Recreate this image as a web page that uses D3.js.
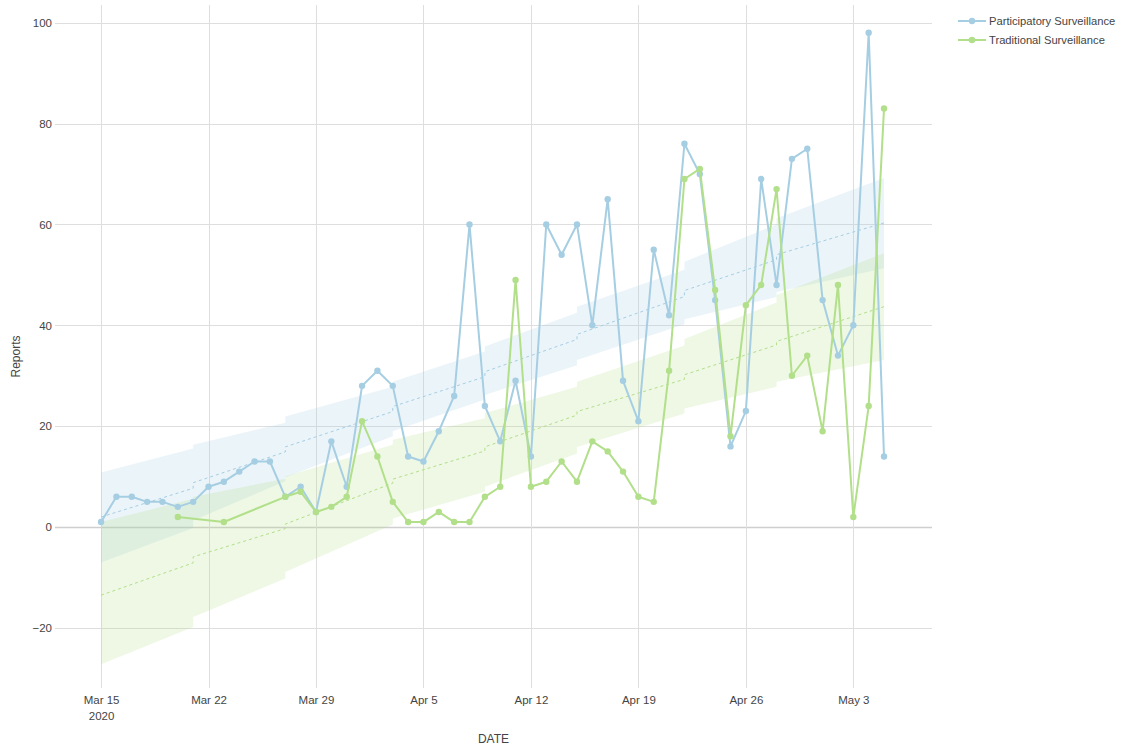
<!DOCTYPE html>
<html>
<head>
<meta charset="utf-8">
<script src="https://cdn.jsdelivr.net/npm/d3@7"></script>
<style>
  html, body { margin: 0; padding: 0; background: #fff; }
  svg text { font-family: "Liberation Sans", Arial, Helvetica, sans-serif; fill: #444; }
</style>
</head>
<body>
<svg id="chart" width="1122" height="749"></svg>
<script>
// ---------------- data ----------------
const partDates = [
  "2020-03-15","2020-03-16","2020-03-17","2020-03-18","2020-03-19","2020-03-20","2020-03-21",
  "2020-03-22","2020-03-23","2020-03-24","2020-03-25","2020-03-26","2020-03-27","2020-03-28",
  "2020-03-29","2020-03-30","2020-03-31","2020-04-01","2020-04-02","2020-04-03","2020-04-04",
  "2020-04-05","2020-04-06","2020-04-07","2020-04-08","2020-04-09","2020-04-10","2020-04-11",
  "2020-04-12","2020-04-13","2020-04-14","2020-04-15","2020-04-16","2020-04-17","2020-04-18",
  "2020-04-19","2020-04-20","2020-04-21","2020-04-22","2020-04-23","2020-04-24","2020-04-25",
  "2020-04-26","2020-04-27","2020-04-28","2020-04-29","2020-04-30","2020-05-01","2020-05-02",
  "2020-05-03","2020-05-04","2020-05-05"
];
const partValues = [
  1, 6, 6, 5, 5, 4, 5,
  8, 9, 11, 13, 13, 6, 8,
  3, 17, 8, 28, 31, 28, 14,
  13, 19, 26, 60, 24, 17, 29,
  14, 60, 54, 60, 40, 65, 29,
  21, 55, 42, 76, 70, 45, 16,
  23, 69, 48, 73, 75, 45, 34,
  40, 98, 14
];

const tradDates = [
  "2020-03-20","2020-03-23","2020-03-27","2020-03-28",
  "2020-03-29","2020-03-30","2020-03-31","2020-04-01","2020-04-02","2020-04-03","2020-04-04",
  "2020-04-05","2020-04-06","2020-04-07","2020-04-08","2020-04-09","2020-04-10","2020-04-11",
  "2020-04-12","2020-04-13","2020-04-14","2020-04-15","2020-04-16","2020-04-17","2020-04-18",
  "2020-04-19","2020-04-20","2020-04-21","2020-04-22","2020-04-23","2020-04-24","2020-04-25",
  "2020-04-26","2020-04-27","2020-04-28","2020-04-29","2020-04-30","2020-05-01","2020-05-02",
  "2020-05-03","2020-05-04","2020-05-05"
];
const tradValues = [
  2, 1, 6, 7,
  3, 4, 6, 21, 14, 5, 1,
  1, 3, 1, 1, 6, 8, 49,
  8, 9, 13, 9, 17, 15, 11,
  6, 5, 31, 69, 71, 47, 18,
  44, 48, 67, 30, 34, 19, 48,
  2, 24, 83
];

// trend knots (steps occur where a date repeats)
const trendDates = [
  "2020-03-15","2020-03-21","2020-03-21","2020-03-27","2020-03-27","2020-04-03","2020-04-03",
  "2020-04-09","2020-04-09","2020-04-15","2020-04-15","2020-04-22","2020-04-22","2020-04-28",
  "2020-04-28","2020-05-05"
];
const partTrend = [2.0, 7.7, 8.8, 14.9, 15.9, 22.9, 23.9, 29.8, 30.8, 37.2, 38.2, 45.7, 46.9, 53.0, 54.0, 60.3];
const partUpper = [10.8, 15.6, 16.3, 20.7, 21.9, 27.8, 28.8, 34.8, 35.8, 42.5, 43.7, 51.0, 52.6, 60.0, 61.2, 69.2];
const partLower = [-7.0, -0.2, 1.3, 9.1, 9.9, 18.0, 19.0, 25.3, 26.2, 32.1, 33.1, 40.2, 41.2, 45.6, 46.6, 51.3];

const tradTrend = [-13.5, -7.1, -5.9, -0.3, 0.6, 8.7, 9.5, 15.1, 15.9, 22.2, 22.9, 29.3, 30.2, 36.1, 36.8, 43.7];
const tradUpper = [1.0, 5.6, 6.0, 9.6, 10.1, 16.3, 17.3, 21.6, 22.6, 27.8, 28.8, 36.0, 37.3, 44.5, 46.0, 54.3];
const tradLower = [-27.2, -19.8, -17.8, -10.2, -8.9, 0.5, 1.7, 7.0, 8.0, 14.6, 15.9, 22.5, 23.5, 27.8, 28.8, 33.1];

const xTickDates = ["2020-03-15","2020-03-22","2020-03-29","2020-04-05","2020-04-12","2020-04-19","2020-04-26","2020-05-03"];
const yTicks = [-20, 0, 20, 40, 60, 80, 100];
const seriesNames = ["Participatory Surveillance", "Traditional Surveillance"];
const seriesColors = ["#a6cee3", "#b2df8a"];

// ---------------- layout ----------------
const parse = d3.utcParse("%Y-%m-%d");
const svg = d3.select("#chart");
const L = 55, R = 932, T = 5, B = 688;

const x = d3.scaleUtc()
  .domain([parse("2020-03-12"), new Date(Date.UTC(2020, 4, 8, 3))])
  .range([L, R]);
const y = d3.scaleLinear().domain([-31.9, 103.5]).range([B, T]);

// grid
const grid = svg.append("g");
grid.selectAll("line.h").data(yTicks).join("line")
  .attr("x1", L).attr("x2", R)
  .attr("y1", d => Math.round(y(d)) + 0.5).attr("y2", d => Math.round(y(d)) + 0.5)
  .attr("stroke", d => d === 0 ? "#cfcfcf" : "#dedede").attr("stroke-width", d => d === 0 ? 1.5 : 1);
grid.selectAll("line.v").data(xTickDates.map(parse)).join("line")
  .attr("x1", d => Math.round(x(d)) + 0.5).attr("x2", d => Math.round(x(d)) + 0.5)
  .attr("y1", T).attr("y2", B)
  .attr("stroke", "#dedede").attr("stroke-width", 1);

// axes (labels only)
const yAxis = d3.axisLeft(y).tickValues(yTicks).tickSize(0).tickPadding(0)
  .tickFormat(d => d < 0 ? "\u2212" + Math.abs(d) : String(d));
const gy = svg.append("g").attr("transform", `translate(${L - 3},0)`).call(yAxis);
gy.select(".domain").remove();
gy.selectAll("text").attr("font-size", 11.5).attr("fill", "#444")
  .attr("font-family", "Liberation Sans, Arial, sans-serif");

const xAxis = d3.axisBottom(x).tickValues(xTickDates.map(parse)).tickSize(0).tickPadding(0)
  .tickFormat(d3.utcFormat("%b %-d"));
const gx = svg.append("g").attr("transform", `translate(0,${B + 8})`).call(xAxis);
gx.select(".domain").remove();
gx.selectAll("text").attr("font-size", 11.5).attr("fill", "#444")
  .attr("font-family", "Liberation Sans, Arial, sans-serif").attr("dy", "0.71em");
gx.selectAll(".tick").filter((d, i) => i === 0).append("text")
  .attr("y", 0).attr("dy", "2.1em").attr("text-anchor", "middle")
  .attr("font-size", 11.5).attr("fill", "#444").text("2020");

// axis titles
svg.append("text").attr("x", (L + R) / 2).attr("y", 743).attr("text-anchor", "middle")
  .attr("font-size", 12).text("DATE");
svg.append("text").attr("transform", `translate(20,${(T + B) / 2 + 10}) rotate(-90)`)
  .attr("text-anchor", "middle").attr("font-size", 12).text("Reports");

// clip
svg.append("defs").append("clipPath").attr("id", "clip")
  .append("rect").attr("x", L).attr("y", T).attr("width", R - L).attr("height", B - T);
const plot = svg.append("g").attr("clip-path", "url(#clip)");

// bands
const trendRows = (mid, lo, hi) => trendDates.map((d, i) => ({ date: parse(d), mid: mid[i], lo: lo[i], hi: hi[i] }));
const bands = [
  trendRows(partTrend, partLower, partUpper),
  trendRows(tradTrend, tradLower, tradUpper)
];
const area = d3.area().x(d => x(d.date)).y0(d => y(d.lo)).y1(d => y(d.hi));
const midLine = d3.line().x(d => x(d.date)).y(d => y(d.mid));
bands.forEach((rows, i) => {
  plot.append("path").datum(rows).attr("d", area)
    .attr("fill", seriesColors[i]).attr("fill-opacity", 0.22).attr("stroke", "none");
});
bands.forEach((rows, i) => {
  plot.append("path").datum(rows).attr("d", midLine)
    .attr("fill", "none").attr("stroke", seriesColors[i]).attr("stroke-width", 1)
    .attr("stroke-dasharray", "3,3");
});

// series
const series = [
  partDates.map((d, i) => ({ date: parse(d), v: partValues[i] })),
  tradDates.map((d, i) => ({ date: parse(d), v: tradValues[i] }))
];
const line = d3.line().x(d => x(d.date)).y(d => y(d.v));
series.forEach((rows, i) => {
  const g = plot.append("g");
  g.append("path").datum(rows).attr("d", line)
    .attr("fill", "none").attr("stroke", seriesColors[i]).attr("stroke-width", 2)
    .attr("stroke-linejoin", "round");
  g.selectAll("circle").data(rows).join("circle")
    .attr("cx", d => x(d.date)).attr("cy", d => y(d.v)).attr("r", 3.2)
    .attr("fill", seriesColors[i]);
});

// legend
const leg = svg.append("g");
seriesNames.forEach((name, i) => {
  const yy = 21 + i * 19;
  leg.append("line").attr("x1", 958).attr("x2", 986).attr("y1", yy).attr("y2", yy)
    .attr("stroke", seriesColors[i]).attr("stroke-width", 2);
  leg.append("circle").attr("cx", 972).attr("cy", yy).attr("r", 3.2).attr("fill", seriesColors[i]);
  leg.append("text").attr("x", 989).attr("y", yy).attr("dy", "0.35em")
    .attr("font-size", 11.2).text(name);
});
</script>
</body>
</html>
